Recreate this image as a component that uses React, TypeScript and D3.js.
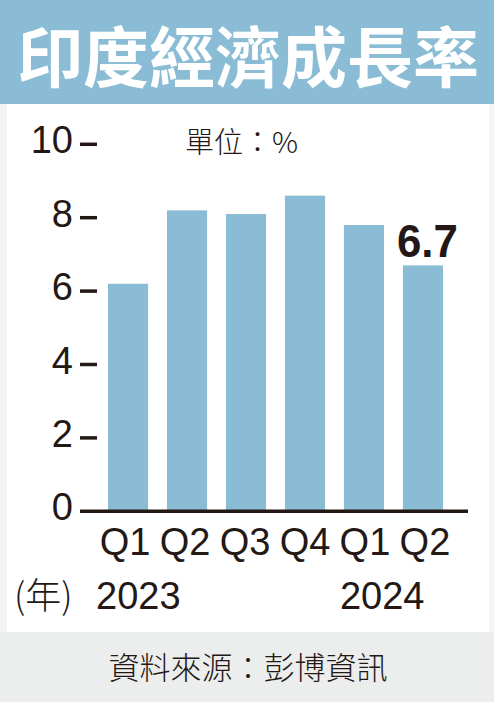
import { useEffect, useRef } from 'react'
import * as d3 from 'd3'

// Quarterly GDP growth, %
const quarters = ['Q1', 'Q2', 'Q3', 'Q4', 'Q1', 'Q2']
const growth = [6.2, 8.2, 8.1, 8.6, 7.8, 6.7]
const yearLabels = ['2023', '2024']
const yearIndex = [0, 4]
const yTicks = [0, 2, 4, 6, 8, 10]
const title = '印度經濟成長率'
const unitLabel = '單位：%'
const sourceLabel = '資料來源：彭博資訊'
const highlightLabel = '6.7'

export default function App() {
  const svgRef = useRef<SVGSVGElement>(null)

  useEffect(() => {
    if (!svgRef.current) return
    const svg = d3.select(svgRef.current)
    svg.selectAll('*').remove()

    const width = 494
    const height = 702
    const ink = '#231815'
    const blue = '#8abcd5'
    const latin = '"Liberation Sans", Arial, Helvetica, sans-serif'
    const cjk = '"Noto Sans CJK TC", "Noto Sans CJK SC", sans-serif'

    svg.attr('viewBox', `0 0 ${width} ${height}`)
      .attr('width', width)
      .attr('height', height)

    // Backgrounds
    svg.append('rect').attr('width', width).attr('height', height).attr('fill', '#eceeed')
    svg.append('rect').attr('x', 0).attr('y', 104).attr('width', width).attr('height', 528).attr('fill', '#f3f5f4')
    svg.append('rect').attr('x', 7).attr('y', 104).attr('width', 482).attr('height', 528).attr('fill', '#ffffff')
    svg.append('rect').attr('width', width).attr('height', 104).attr('fill', blue)

    // Title
    svg.append('text')
      .attr('x', 248)
      .attr('y', 53)
      .attr('text-anchor', 'middle')
      .attr('dominant-baseline', 'central')
      .attr('fill', '#ffffff')
      .attr('font-family', cjk)
      .attr('font-weight', 700)
      .attr('font-size', 66)
      .text(title)

    // Scales
    const x = d3.scaleBand<number>()
      .domain(d3.range(growth.length))
      .range([108, 443])
      .paddingInner(0.32)
      .paddingOuter(0)

    const y = d3.scaleLinear()
      .domain([0, 10])
      .range([511.3, 144.3])

    // Bars
    svg.append('g')
      .selectAll('rect')
      .data(growth)
      .join('rect')
      .attr('x', (_, i) => x(i)!)
      .attr('y', d => y(d))
      .attr('width', x.bandwidth())
      .attr('height', d => y(0) - y(d))
      .attr('fill', blue)

    // Y axis ticks + labels
    const yAxis = svg.append('g')
    yAxis.selectAll('line')
      .data(yTicks.filter(t => t > 0))
      .join('line')
      .attr('x1', 80).attr('x2', 97)
      .attr('y1', d => y(d)).attr('y2', d => y(d))
      .attr('stroke', ink)
      .attr('stroke-width', 3.5)

    yAxis.selectAll('text')
      .data(yTicks)
      .join('text')
      .attr('x', 73)
      .attr('y', d => y(d) + 9)
      .attr('text-anchor', 'end')
      .attr('fill', ink)
      .attr('font-family', latin)
      .attr('font-size', 38)
      .text(d => d)

    // Baseline
    svg.append('line')
      .attr('x1', 80).attr('x2', 468)
      .attr('y1', y(0)).attr('y2', y(0))
      .attr('stroke', ink)
      .attr('stroke-width', 3.5)

    // Quarter labels
    svg.append('g')
      .selectAll('text')
      .data(quarters)
      .join('text')
      .attr('x', (_, i) => x(i)! + x.bandwidth() / 2 - 3 + i)
      .attr('y', 555)
      .attr('text-anchor', 'middle')
      .attr('fill', ink)
      .attr('font-family', latin)
      .attr('font-size', 38)
      .text(d => d)

    // Year labels
    svg.append('text')
      .attr('x', 14)
      .attr('y', 609)
      .attr('fill', ink)
      .attr('font-family', cjk)
      .attr('font-weight', 300)
      .attr('font-size', 36)
      .text('(年)')

    const yearOffsets = [-12, -4]
    svg.append('g')
      .selectAll('text')
      .data(yearLabels)
      .join('text')
      .attr('x', (_, i) => x(yearIndex[i])! + yearOffsets[i])
      .attr('y', 609)
      .attr('fill', ink)
      .attr('font-family', latin)
      .attr('font-size', 38)
      .text(d => d)

    // Unit
    svg.append('text')
      .attr('x', 185)
      .attr('y', 153)
      .attr('fill', ink)
      .attr('font-family', cjk)
      .attr('font-weight', 300)
      .attr('font-size', 29)
      .text(unitLabel)

    // Highlight value on last bar
    const last = growth.length - 1
    svg.append('text')
      .attr('x', x(last)! - 6)
      .attr('y', y(growth[last]) - 8)
      .attr('fill', ink)
      .attr('font-family', latin)
      .attr('font-weight', 700)
      .attr('font-size', 47)
      .attr('textLength', 61)
      .attr('lengthAdjust', 'spacingAndGlyphs')
      .text(highlightLabel)

    // Source
    svg.append('text')
      .attr('x', 248)
      .attr('y', 679)
      .attr('text-anchor', 'middle')
      .attr('fill', ink)
      .attr('font-family', cjk)
      .attr('font-weight', 300)
      .attr('font-size', 31)
      .text(sourceLabel)
  }, [])

  return (
    <svg
      ref={svgRef}
      style={{ position: 'fixed', top: 0, left: 0, display: 'block' }}
    />
  )
}
